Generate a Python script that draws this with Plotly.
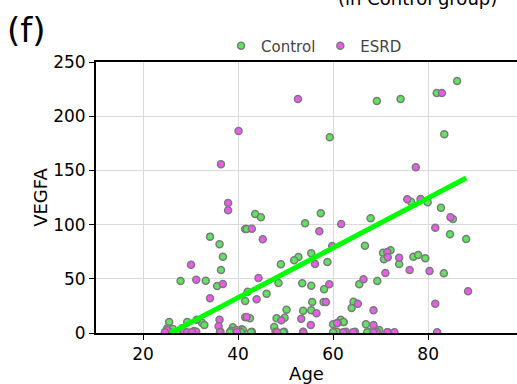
import plotly.graph_objects as go

control_age = [25.5, 29.3, 32.4, 32.9, 25.1, 26.3, 28.2, 30.7, 38.9, 38.5, 40.8, 41.5, 41.5, 34.1, 36.1,
               36.8, 36.4, 27.9, 33.2, 35.6, 41.5, 43.6, 44.8, 41.8, 57.4, 54.1, 67.9, 66.7, 55.4, 52.7,
               51.8, 58.8, 49.0, 48.5, 53.5, 55.4, 58.1, 46.0, 42.0, 65.5, 69.3, 55.6, 50.2, 53.7, 55.4,
               48.1, 49.8, 42.5, 64.3, 63.9, 66.9, 61.6, 62.2, 60.0, 47.6, 41.0, 42.9, 49.7, 60.8, 67.4,
               59.3, 69.2, 74.2, 81.8, 86.1, 83.4, 76.4, 79.9, 82.7, 85.2, 84.6, 88.0, 70.5, 72.1, 70.7,
               73.9, 76.9, 77.9, 79.4, 83.3, 69.7, 58.0, 25.7, 27.8, 30.9, 38.3, 40.6, 42.7, 49.5, 60.0,
               67.2, 62.2]
control_vegfa = [10.1, 10.1, 9.5, 7.4, 4.3, 3.7, 4.3, 1.8, 5.3, 2.1, 3.4, 14.5, 95.9, 88.9, 81.8,
                 70.4, 58.1, 48.0, 48.3, 43.4, 29.5, 109.8, 106.7, 95.9, 110.4, 101.2, 105.8, 80.5, 73.5, 70.1,
                 67.1, 65.5, 63.4, 46.1, 45.8, 43.6, 40.3, 36.3, 38.1, 44.9, 48.0, 28.6, 21.5, 20.6, 20.9,
                 13.6, 14.1, 13.6, 28.9, 23.1, 8.0, 12.3, 10.1, 8.0, 5.5, 2.8, 1.2, 1.2, 1.2, 1.2,
                 180.5, 214.0, 215.9, 221.4, 232.5, 183.3, 121.1, 120.6, 115.6, 105.2, 91.0, 86.7, 74.1, 76.3, 68.0,
                 63.7, 70.4, 72.0, 68.9, 55.1, 2.8, 28.6, 0.8, 0.8, 0.8, 0.8, 0.8, 0.8, 0.8, 0.8,
                 0.8, 10.1]

esrd_age = [37.9, 37.9, 30.1, 31.2, 36.8, 34.1, 31.3, 36.1, 35.9, 25.0, 28.5, 31.2, 36.3, 39.6, 40.1,
            36.4, 52.6, 82.9, 77.4, 42.9, 45.2, 61.7, 57.1, 59.8, 56.2, 44.3, 59.2, 43.9, 66.4, 58.5,
            56.5, 53.3, 49.1, 41.8, 65.2, 68.5, 68.5, 61.0, 55.3, 47.9, 53.7, 62.7, 64.6, 69.2, 75.6,
            78.4, 84.7, 81.5, 71.4, 71.5, 73.9, 71.0, 76.1, 80.3, 88.4, 81.5, 71.5, 72.9, 81.9, 24.6,
            29.3, 30.3, 36.2, 39.8, 48.2, 53.7, 62.1, 64.2, 68.5, 71.4, 60.8]
esrd_vegfa = [119.9, 113.2, 63.0, 49.2, 45.2, 32.0, 12.3, 12.3, 6.2, 2.8, 2.1, 1.2, 1.2, 2.8, 186.3,
              155.6, 215.9, 221.4, 152.9, 96.2, 86.4, 100.6, 93.8, 80.3, 63.7, 50.7, 44.9, 31.1, 49.5, 28.6,
              18.2, 13.2, 11.7, 14.8, 27.0, 20.9, 7.4, 9.5, 7.4, 1.2, 1.2, 1.2, 1.2, 1.2, 123.3,
              123.6, 106.7, 97.2, 74.7, 69.8, 69.5, 55.4, 58.1, 57.2, 38.5, 27.0, 0.6, 0.6, 0.6, 0.8,
              0.8, 0.8, 0.8, 0.8, 0.8, 0.8, 0.8, 0.8, 0.8, 0.8, 8.9]

fit_slope = 2.30
fit_intercept = -59.4
fit_age_range = [25.8, 88.0]
fit_vegfa = [fit_slope * a + fit_intercept for a in fit_age_range]

marker_line = dict(color="#7a7a7a", width=1.5)

fig = go.Figure()
fig.add_trace(go.Scatter(x=control_age, y=control_vegfa, mode="markers", name="Control",
                         marker=dict(size=7, color="rgb(95,228,95)", line=marker_line)))
fig.add_trace(go.Scatter(x=esrd_age, y=esrd_vegfa, mode="markers", name="ESRD",
                         marker=dict(size=7, color="rgb(238,90,238)", line=marker_line)))
fig.add_trace(go.Scatter(x=fit_age_range, y=fit_vegfa, mode="lines", showlegend=False,
                         line=dict(color="#00ff00", width=5)))

fig.update_layout(
    width=517, height=384,
    margin=dict(l=96, r=0, t=62, b=51, autoexpand=False),
    paper_bgcolor="white", plot_bgcolor="white",
    font=dict(family="DejaVu Sans", color="black", size=17),
    legend=dict(orientation="h", x=0.518, xanchor="center", yref="container", y=0.88, yanchor="middle",
                font=dict(size=15, color="#444"), bgcolor="rgba(0,0,0,0)"),
    xaxis=dict(range=[10.1, 98.7], tickvals=[20, 40, 60, 80], showgrid=True, gridcolor="#d9d9d9",
               showline=True, linecolor="black", linewidth=2, mirror=True, ticks="outside",
               ticklen=5, tickcolor="black", zeroline=False, automargin=False,
               title=dict(text="Age", font=dict(size=18), standoff=2)),
    yaxis=dict(range=[0, 250], tickvals=[0, 50, 100, 150, 200, 250], showgrid=True, gridcolor="#d9d9d9",
               showline=True, linecolor="black", linewidth=2, mirror=False, ticks="outside",
               ticklen=5, tickcolor="black", zeroline=False, automargin=False,
               title=dict(text="VEGFA", font=dict(size=18), standoff=1)),
    annotations=[
        dict(text="(f)", xref="paper", yref="paper", x=-0.215, y=1.118, xanchor="left", yanchor="middle",
             showarrow=False, font=dict(size=34, color="black")),
        dict(text="(in Control group)", xref="paper", yref="paper", x=0.764, y=1.236,
             xanchor="center", yanchor="middle", showarrow=False, font=dict(size=18, color="black")),
    ],
)

# remove the browser's default 8px body margin so the figure sits at the window's top-left corner
fig.write_html("out.html", config={"displayModeBar": False},
               post_script="document.body.style.margin='0';")
